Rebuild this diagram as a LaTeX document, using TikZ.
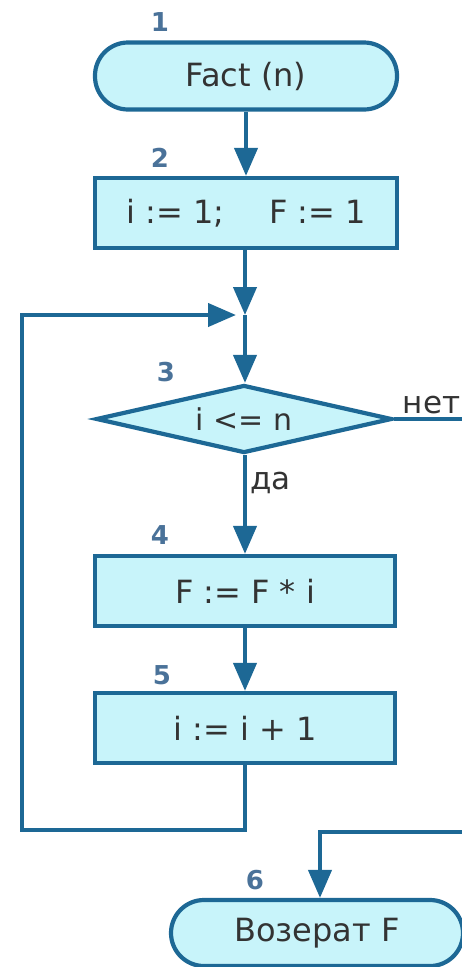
\documentclass[tikz,border=0pt]{standalone}
\usepackage{fontspec}
\setmainfont{DejaVu Sans}
\usetikzlibrary{shapes,arrows.meta,positioning}
\definecolor{blockfill}{HTML}{C8F4FA}
\definecolor{blockline}{HTML}{1D6895}
\definecolor{numcol}{HTML}{4A7299}
\definecolor{txtcol}{HTML}{333333}

\begin{document}
\begin{tikzpicture}[x=1pt,y=-1pt,>={Triangle[length=28pt,width=23pt]},line width=4.2pt,color=blockline]
\tikzstyle{block} = [rectangle, draw=blockline, fill=blockfill, minimum width=302pt, minimum height=70pt, inner sep=0pt, text=txtcol, font=\fontsize{32}{36}\selectfont]
\tikzstyle{term} = [block, rounded corners=33pt, minimum height=67pt]
\tikzstyle{cond} = [diamond, draw=blockline, fill=blockfill, aspect=4.3, minimum width=296pt, minimum height=68pt, inner sep=0pt, text=txtcol, font=\fontsize{30}{34}\selectfont]
\tikzstyle{num} = [text=numcol, font=\bfseries\fontsize{26}{28}\selectfont]
\tikzstyle{lbl} = [text=txtcol, font=\fontsize{31}{34}\selectfont]
\useasboundingbox (0,0) rectangle (462,967);
% blocks
\node[term] (t1) at (246,76) {Fact (n)};
\node[block] (b2) at (246,213) {i := 1;\hspace{1.4em}F := 1};
\node[cond] (d3) at (244,419) {i <= n};
\node[block, minimum width=300pt] (b4) at (245,591) {F := F * i};
\node[block, minimum width=300pt] (b5) at (245,728) {i := i + 1};
\node[term, minimum width=292pt, minimum height=66pt] (t6) at (317,933) {Возерат F};
% numbers
\node[num] (n1) at (160,22) {1};
\node[num] (n2) at (160,158) {2};
\node[num] (n3) at (166,372) {3};
\node[num] (n4) at (160,535) {4};
\node[num] (n5) at (162,675) {5};
\node[num] (n6) at (255,880) {6};
% corner points
\coordinate (j) at (245,315);
\coordinate (loopA) at (245,830);
\coordinate (loopB) at (22,830);
\coordinate (loopC) at (22,315);
\coordinate (noOut) at (462,419);
\coordinate (noIn) at (462,832);
\coordinate (retA) at (320,832);
% connectors
\draw[->] (t1) -- (b2);
\draw[->] (b2.south -| j) -- (j);
\draw[->] (j) -- (j |- d3.north);
\draw[->] (j |- d3.south) -- node[lbl, right, pos=0.28] {да} (b4);
\draw (d3.east) -- node[lbl, above, pos=0.55] {нет} (noOut);
\draw[->] (b4) -- (b5);
\draw[->, shorten >=9pt] (b5) -- (loopA) -- (loopB) -- (loopC) -- (j);
\draw[->] (noIn) -- (retA) -- (retA |- t6.north);
\end{tikzpicture}
\end{document}
